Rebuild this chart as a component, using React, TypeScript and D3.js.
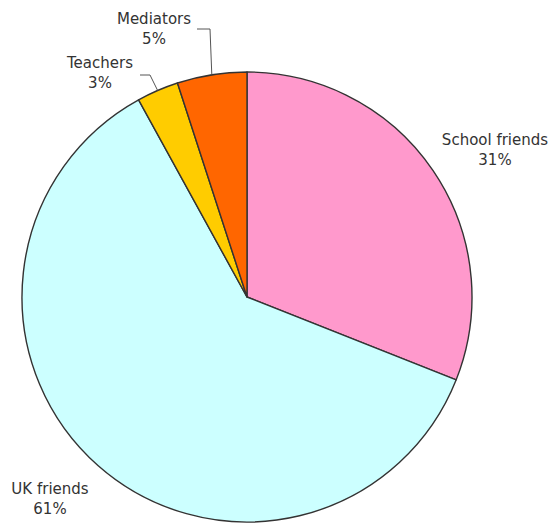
import React from "react";
import * as d3 from "d3";

const categories = ["School friends", "UK friends", "Teachers", "Mediators"];
const values = [31, 61, 3, 5];
const colors = ["#ff99cc", "#ccffff", "#ffcc00", "#ff6600"];

const W = 557;
const H = 525;
const cx = 247;
const cy = 297;
const R = 225;

// label layout (text anchor center, first baseline)
const labelLayout: Record<string, { x: number; y: number; leader?: [number, number][] }> = {
  "School friends": { x: 495, y: 145 },
  "UK friends": { x: 50, y: 494 },
  Teachers: { x: 100, y: 68, leader: [[140, 75], [150, 75]] },
  Mediators: { x: 154, y: 24, leader: [[197, 29], [210, 29]] },
};

export default function App() {
  const pie = d3.pie<number>().sort(null).value((d) => d);
  const arcs = pie(values);
  const arc = d3.arc<d3.PieArcDatum<number>>().innerRadius(0).outerRadius(R);
  const total = d3.sum(values);

  return (
    <svg width={W} height={H} style={{ position: "absolute", left: 0, top: 0, background: "#fff" }}>
      <g transform={`translate(${cx},${cy})`}>
        {arcs.map((a, i) => (
          <path key={i} d={arc(a) || ""} fill={colors[i]} stroke="#333" strokeWidth={1.4} strokeLinejoin="round" />
        ))}
      </g>
      {arcs.map((a, i) => {
        const name = categories[i];
        const lay = labelLayout[name];
        const mid = (a.startAngle + a.endAngle) / 2;
        const ex = cx + R * Math.sin(mid);
        const ey = cy - R * Math.cos(mid);
        const pct = Math.round((values[i] / total) * 100) + "%";
        return (
          <g key={name}>
            {lay.leader && (
              <polyline
                points={[...lay.leader, [ex, ey]].map((p) => p.join(",")).join(" ")}
                fill="none"
                stroke="#555"
                strokeWidth={1}
              />
            )}
            <text
              x={lay.x}
              y={lay.y}
              textAnchor="middle"
              fontFamily="DejaVu Sans, Verdana, sans-serif"
              fontSize={15}
              fill="#333"
            >
              <tspan x={lay.x}>{name}</tspan>
              <tspan x={lay.x} dy={19.5}>{pct}</tspan>
            </text>
          </g>
        );
      })}
    </svg>
  );
}
